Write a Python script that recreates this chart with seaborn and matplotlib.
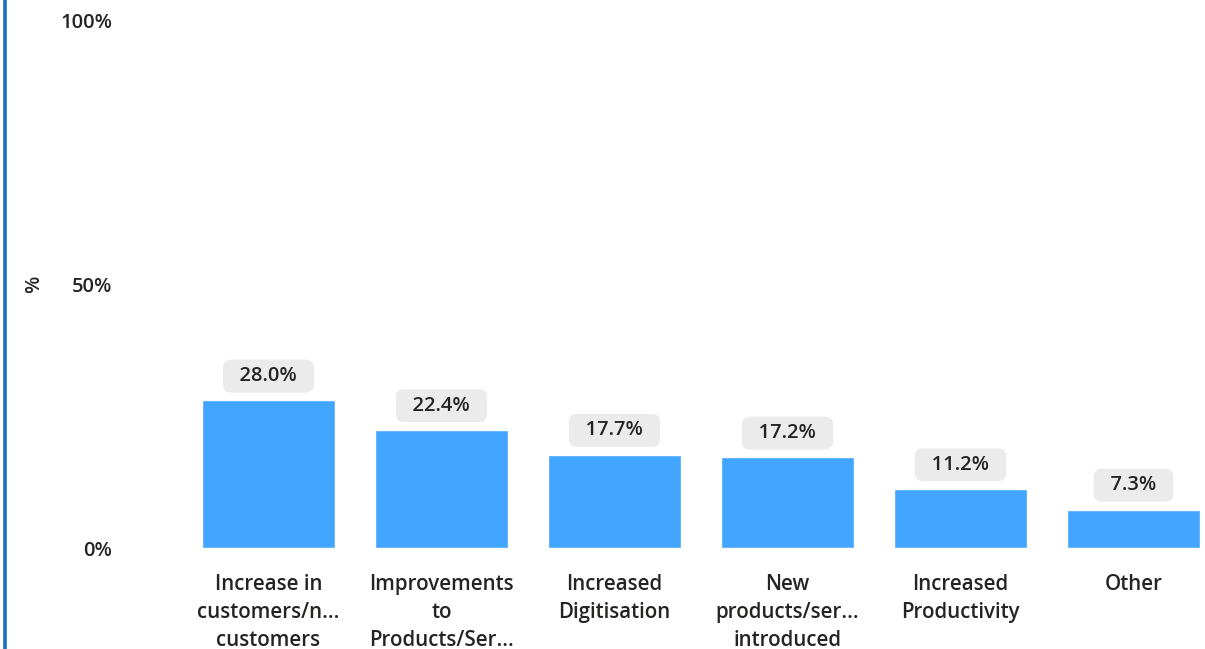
import matplotlib
matplotlib.use("Agg")
import matplotlib.pyplot as plt
from matplotlib.lines import Line2D
import seaborn as sns
import pandas as pd

categories = [
    "Increase in\ncustomers/n...\ncustomers",
    "Improvements\nto\nProducts/Ser...",
    "Increased\nDigitisation",
    "New\nproducts/ser...\nintroduced",
    "Increased\nProductivity",
    "Other",
]
values = [28.0, 22.4, 17.7, 17.2, 11.2, 7.3]
y_ticks = [0, 50, 100]
y_tick_labels = ["0%", "50%", "100%"]

sns.set_theme(style="white")
plt.rcParams["font.family"] = ["Open Sans", "DejaVu Sans"]

TEXT = "#252423"
BAR = "#42a5ff"
WEIGHT = 600

df = pd.DataFrame({"category": categories, "value": values})

fig = plt.figure(figsize=(12.05, 6.49), dpi=100)
W, H = 1205, 649
ax = fig.add_axes([120 / W, 1 - 548 / H, (W - 120) / W, (548 - 21) / H])

sns.barplot(data=df, x="category", y="value", color=BAR, width=0.77,
            saturation=1, ax=ax)

ax.set_ylim(0, 100)
ax.set_xlim(-(268.5 - 120) / 173, (W - 268.5) / 173)
ax.set_yticks(y_ticks)
ax.set_yticklabels(y_tick_labels, fontsize=14.5, color=TEXT, fontweight=WEIGHT)
ax.tick_params(axis="y", length=0, pad=5.5)
ax.tick_params(axis="x", length=0, pad=19)
for lbl in ax.get_xticklabels():
    lbl.set_fontsize(14.8)
    lbl.set_fontweight(WEIGHT)
    lbl.set_color(TEXT)
    lbl.set_linespacing(1.42)
    lbl.set_verticalalignment("top")
ax.set_xlabel("")
ax.set_ylabel("%", fontsize=14.5, color=TEXT, fontweight=WEIGHT)
ax.yaxis.set_label_coords(-(120 - 44) / (W - 120), 0.5)
for s in ax.spines.values():
    s.set_visible(False)
ax.grid(False)

# value labels in rounded grey boxes above each bar
for i, v in enumerate(values):
    ax.annotate(f"  {v:.1f}%  ", xy=(i, v), xytext=(0, 17.5),
                textcoords="offset points", ha="center", va="center",
                fontsize=14.5, color=TEXT, fontweight=WEIGHT,
                bbox=dict(boxstyle="round,pad=0.32,rounding_size=0.4",
                          fc="#ebebeb", ec="none"))

# accent rule along the left edge
fig.add_artist(Line2D([4.5 / W, 4.5 / W], [0, 1], transform=fig.transFigure,
                      color="#1f6fc0", linewidth=2.6))

fig.savefig("out.png", dpi=100)
